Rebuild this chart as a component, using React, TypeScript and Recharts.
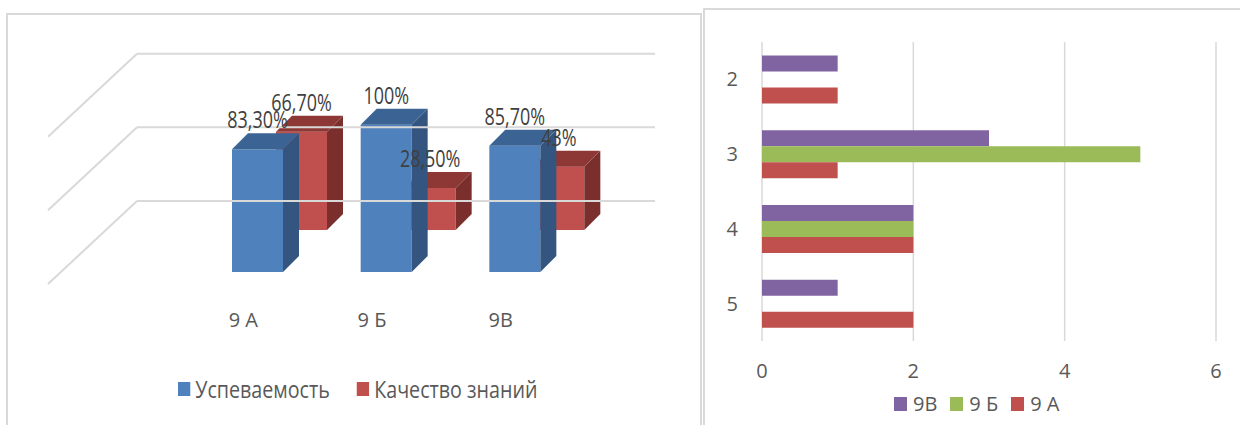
import React from "react";
import {
  BarChart,
  Bar,
  XAxis,
  YAxis,
  CartesianGrid,
  ReferenceLine,
  LabelList,
  Legend,
} from "recharts";

// левая диаграмма: успеваемость и качество по классам
const classes = ["9 А", "9 Б", "9В"];
const uspevaemost = [83.3, 100, 85.7];
const kachestvo = [66.7, 28.5, 43];
const wallTicks = [0, 50, 100];

// правая диаграмма: распределение оценок
const grades = ["2", "3", "4", "5"];
const class9V = [1, 3, 2, 1];
const class9B = [0, 5, 2, 0];
const class9A = [1, 1, 2, 2];
const countTicks = [0, 2, 4, 6];

const leftData = classes.map((c, i) => ({
  name: c,
  usp: uspevaemost[i],
  kach: kachestvo[i],
}));

const rightData = grades.map((g, i) => ({
  grade: g,
  v: class9V[i],
  b: class9B[i],
  a: class9A[i],
}));

const SANS = "'Open Sans', 'Noto Sans', sans-serif";
const GRID = "#d9d9d9";

// 3D: глубина грани, сдвиг заднего ряда, стенки
const FACE = 16;
const BACK_DX = 44;
const BACK_DY = -42;
const WALL_RISE = 71;
const WALL_DX = 89;
const WALL_DY = 83;
const LABEL_SQUEEZE = 0.78; // текст на левой диаграмме сжат по ширине
const LEGEND_SQUEEZE = 0.82;

const blueColors = { front: "#4f81bd", side: "#34557f", top: "#3b6494" };
const redColors = { front: "#c0504d", side: "#7b2f2d", top: "#8e3836" };

function fmtPct(v: number) {
  if (Number.isInteger(v)) return `${v}%`;
  return v.toFixed(2).replace(".", ",") + "%";
}

function makeBox(c: { front: string; side: string; top: string }, dx: number, dy: number) {
  return (p: any) => {
    const { x, y, width: w, height: h } = p;
    if (!h) return <g />;
    return (
      <g transform={`translate(${dx},${dy})`}>
        <rect x={x} y={y} width={w} height={h} fill={c.front} />
        <polygon
          points={`${x + w},${y} ${x + w + FACE},${y - FACE} ${x + w + FACE},${y + h - FACE} ${x + w},${y + h}`}
          fill={c.side}
        />
        <polygon
          points={`${x},${y} ${x + FACE},${y - FACE} ${x + w + FACE},${y - FACE} ${x + w},${y}`}
          fill={c.top}
        />
      </g>
    );
  };
}

function makeLabel(dx: number, dy: number) {
  return (p: any) => {
    const { x, y, width, value } = p;
    const cx = x + width / 2 + dx;
    const cy = y + dy - 30;
    return (
      <g transform={`translate(${cx},${cy}) scale(${LABEL_SQUEEZE},1)`}>
        <text x={0} y={0} textAnchor="middle" dominantBaseline="central" fontFamily={SANS} fontSize={23} fill="#404040">
          {fmtPct(value)}
        </text>
      </g>
    );
  };
}

function WallLine(p: any) {
  const { x1, y1, x2 } = p;
  const y = y1 - WALL_RISE;
  return (
    <g>
      <line x1={x1} y1={y} x2={x2} y2={y} stroke={GRID} strokeWidth={2} />
      <line x1={x1} y1={y} x2={x1 - WALL_DX} y2={y + WALL_DY} stroke={GRID} strokeWidth={2} />
    </g>
  );
}

function ClassTick(p: any) {
  const { x, y, payload } = p;
  return (
    <text
      x={x - 14}
      y={y + 47}
      textAnchor="middle"
      dominantBaseline="central"
      fontFamily={SANS}
      fontSize={20}
      fill="#595959"
    >
      {payload.value}
    </text>
  );
}

type Item = { name: string; color: string };

function legendContent(items: Item[], size: number, sq: number, gap: number, squeeze: number) {
  return () => (
    <div
      style={{
        display: "flex",
        alignItems: "center",
        fontFamily: SANS,
        fontSize: size,
        color: "#595959",
        whiteSpace: "nowrap",
        transform: `scaleX(${squeeze})`,
        transformOrigin: "left center",
      }}
    >
      {items.map((it) => (
        <span key={it.name} style={{ display: "flex", alignItems: "center", marginRight: gap }}>
          <span style={{ display: "inline-block", width: sq, height: 14, background: it.color, marginRight: 6 }} />
          {it.name}
        </span>
      ))}
    </div>
  );
}

const leftLegend: Item[] = [
  { name: "Успеваемость", color: blueColors.front },
  { name: "Качество знаний", color: redColors.front },
];

const rightLegend: Item[] = [
  { name: "9В", color: "#8064a2" },
  { name: "9 Б", color: "#9bbb59" },
  { name: "9 А", color: "#c0504d" },
];

export default function App() {
  return (
    <div style={{ position: "absolute", left: 0, top: 0, width: 1240, height: 425, background: "#fff", overflow: "hidden" }}>
      <div style={{ position: "absolute", left: 6, top: 13, width: 692, height: 420, border: `2px solid ${GRID}` }} />
      <div style={{ position: "absolute", left: 703, top: 8, width: 540, height: 420, border: `2px solid ${GRID}` }} />

      <div style={{ position: "absolute", left: 0, top: 0 }}>
        <BarChart width={700} height={425} data={leftData} margin={{ top: 51, right: 45, bottom: 0, left: 137 }}>
          <XAxis
            xAxisId="front"
            dataKey="name"
            height={153}
            padding={{ left: 56, right: 76 }}
            axisLine={false}
            tickLine={false}
            tickSize={0}
            tickMargin={0}
            tick={<ClassTick />}
          />
          <XAxis xAxisId="back" dataKey="name" height={0} hide padding={{ left: 56, right: 76 }} />
          <YAxis yAxisId="val" domain={[0, 150]} hide />
          {wallTicks.map((t) => (
            <ReferenceLine
              key={t}
              xAxisId="front"
              yAxisId="val"
              y={t}
              ifOverflow="visible"
              shape={(p: any) => <WallLine {...p} />}
            />
          ))}
          <Bar
            xAxisId="back"
            yAxisId="val"
            dataKey="kach"
            name="Качество знаний"
            barSize={51}
            fill={redColors.front}
            shape={makeBox(redColors, BACK_DX, BACK_DY)}
            isAnimationActive={false}
          >
            <LabelList dataKey="kach" content={makeLabel(BACK_DX, BACK_DY)} />
          </Bar>
          <Bar
            xAxisId="front"
            yAxisId="val"
            dataKey="usp"
            name="Успеваемость"
            barSize={51}
            fill={blueColors.front}
            shape={makeBox(blueColors, 0, 0)}
            isAnimationActive={false}
          >
            <LabelList dataKey="usp" content={makeLabel(0, 0)} />
          </Bar>
          <Legend
            layout="horizontal"
            verticalAlign="middle"
            wrapperStyle={{ top: 372, left: 178, width: 500 }}
            content={legendContent(leftLegend, 24, 15, 33, LEGEND_SQUEEZE)}
          />
        </BarChart>
      </div>

      <div style={{ position: "absolute", left: 703, top: 9 }}>
        <BarChart
          width={537}
          height={416}
          data={rightData}
          layout="vertical"
          margin={{ top: 33, right: 24, bottom: 0, left: 0 }}
          barCategoryGap="18%"
          barGap={0}
        >
          <CartesianGrid horizontal={false} stroke={GRID} strokeWidth={1.5} />
          <XAxis
            type="number"
            domain={[0, 6]}
            ticks={countTicks}
            height={84}
            axisLine={false}
            tickLine={false}
            tickSize={0}
            tickMargin={23}
            tick={{ fontFamily: SANS, fontSize: 20, fill: "#595959" }}
          />
          <YAxis
            type="category"
            dataKey="grade"
            width={59}
            axisLine={false}
            tickLine={false}
            tickSize={0}
            tickMargin={24}
            tick={{ fontFamily: SANS, fontSize: 20, fill: "#595959" }}
          />
          <Bar dataKey="v" name="9В" fill="#8064a2" isAnimationActive={false} />
          <Bar dataKey="b" name="9 Б" fill="#9bbb59" isAnimationActive={false} />
          <Bar dataKey="a" name="9 А" fill="#c0504d" isAnimationActive={false} />
          <Legend
            layout="horizontal"
            verticalAlign="middle"
            wrapperStyle={{ top: 381, left: 191, width: 300 }}
            content={legendContent(rightLegend, 20, 13, 13, 1)}
          />
        </BarChart>
      </div>
    </div>
  );
}
